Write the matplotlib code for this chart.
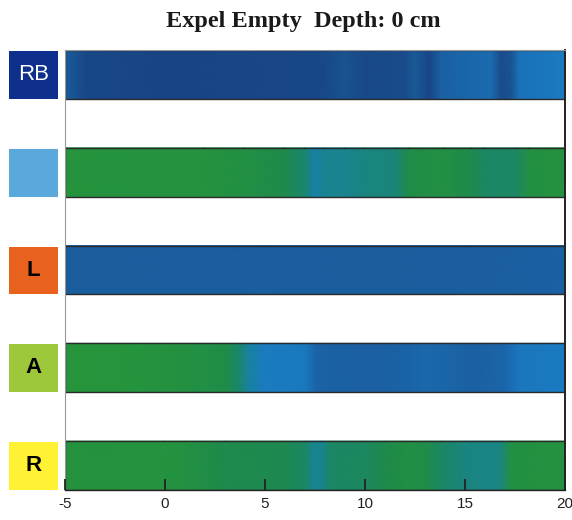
import numpy as np
import matplotlib
matplotlib.use("Agg")
import matplotlib.pyplot as plt
from matplotlib.colors import LinearSegmentedColormap
from matplotlib import transforms
from matplotlib.patches import Rectangle

# ---- data ----
title = "Expel Empty  Depth: 0 cm"
labels = ["RB", "", "L", "A", "R"]
label_colors = ["#0f2f8c", "#5aa8dc", "#e8621e", "#9ec83c", "#fff234"]
label_text_colors = ["white", "black", "black", "black", "black"]
xticks = [-5, 0, 5, 10, 15, 20]

rb_x = [-5, -4, 0, 5, 8, 9, 10, 12, 12.5, 13.2, 13.8, 15, 16.3, 16.8, 17.3, 17.7, 19, 20]
rb_v = [0.84, 0.95, 0.97, 0.96, 0.95, 0.9, 0.95, 0.93, 0.86, 0.96, 0.8, 0.75, 0.72, 0.93, 0.9, 0.68, 0.65, 0.62]

lb_x = [-5, 2, 4, 6, 7, 7.5, 8, 9, 10, 11.5, 12.2, 14, 15.3, 16, 17.5, 18.2, 20]
lb_v = [0.02, 0.05, 0.1, 0.2, 0.35, 0.53, 0.45, 0.45, 0.4, 0.38, 0.15, 0.1, 0.2, 0.3, 0.3, 0.1, 0.05]

l_x = [-5, 5, 10, 15, 20]
l_v = [0.83, 0.82, 0.83, 0.82, 0.8]

a_x = [-5, -2, 0, 2, 3, 3.6, 4.2, 5, 7, 7.6, 10, 12, 13, 14, 15.5, 17, 17.7, 20]
a_v = [0.0, 0.02, 0.05, 0.12, 0.15, 0.3, 0.5, 0.61, 0.64, 0.78, 0.8, 0.78, 0.74, 0.76, 0.8, 0.75, 0.65, 0.62]

r_x = [-5, 0, 1, 3, 6, 7, 7.4, 7.8, 8.3, 10, 11, 12, 13, 13.8, 15, 16.7, 17.3, 20]
r_v = [0.03, 0.05, 0.08, 0.2, 0.22, 0.3, 0.45, 0.45, 0.3, 0.28, 0.2, 0.12, 0.15, 0.3, 0.4, 0.42, 0.1, 0.05]

strips_x = [rb_x, lb_x, l_x, a_x, r_x]
strips_v = [rb_v, lb_v, l_v, a_v, r_v]

cmap = LinearSegmentedColormap.from_list("gb", [
    (0.00, "#26953b"),
    (0.20, "#1e8a4c"),
    (0.35, "#1a8670"),
    (0.50, "#18829e"),
    (0.62, "#1a7bc2"),
    (0.78, "#1a62a6"),
    (0.88, "#1a5894"),
    (1.00, "#173e80"),
])

fig = plt.figure(figsize=(5.72, 5.20), dpi=100)
ax = fig.add_axes([65/572, 1-490/520, 500/572, 440/520])
ax.set_xlim(-5, 20)
ax.set_ylim(9, 0)

for i, (xs, vs) in enumerate(zip(strips_x, strips_v)):
    y0 = 2*i
    X, Y = np.meshgrid(np.array(xs, float), np.array([y0, y0+1], float))
    C = np.vstack([vs, vs])
    ax.pcolormesh(X, Y, C, cmap=cmap, vmin=0, vmax=1, shading='gouraud', zorder=1)
    ax.add_patch(Rectangle((-5, y0), 25, 1, fill=False, edgecolor="#2a2a2a", lw=1.0, zorder=2))

trans = transforms.blended_transform_factory(ax.transAxes, ax.transData)
for i, (lab, c, tc) in enumerate(zip(labels, label_colors, label_text_colors)):
    y0 = 2*i
    ax.add_patch(Rectangle((-56/500, y0+0.02), 49/500, 0.98, transform=trans, facecolor=c,
                           edgecolor="none", clip_on=False, zorder=3))
    if lab:
        ax.text(-31.5/500, y0+0.5, lab, transform=trans, ha="center", va="center",
                color=tc, fontsize=16, family="Liberation Sans",
                fontweight="normal" if tc == "white" else "bold", zorder=4)

ax.set_xticks(xticks)
ax.set_xticklabels([str(t) for t in xticks], fontsize=11, family="Liberation Sans", color="#222222")
ax.set_yticks([])
ax.tick_params(axis="x", direction="in", length=8, width=1.3, color="#222222", pad=5)
for s in ["left", "top"]:
    ax.spines[s].set_color("#999999")
    ax.spines[s].set_linewidth(0.8)
ax.spines["right"].set_color("#222222")
ax.spines["right"].set_linewidth(1.4)
ax.spines["bottom"].set_color("#222222")
ax.spines["bottom"].set_linewidth(1.0)
for t in ax.xaxis.get_major_ticks():
    t.tick1line.set_zorder(5)
ax.set_axisbelow(False)

fig.text(303/572, 1-22/520, title, ha="center", va="center", fontsize=17.5,
         family="Liberation Serif", fontweight="bold", color="#1a1a1a")

fig.savefig("out.png", dpi=100)
